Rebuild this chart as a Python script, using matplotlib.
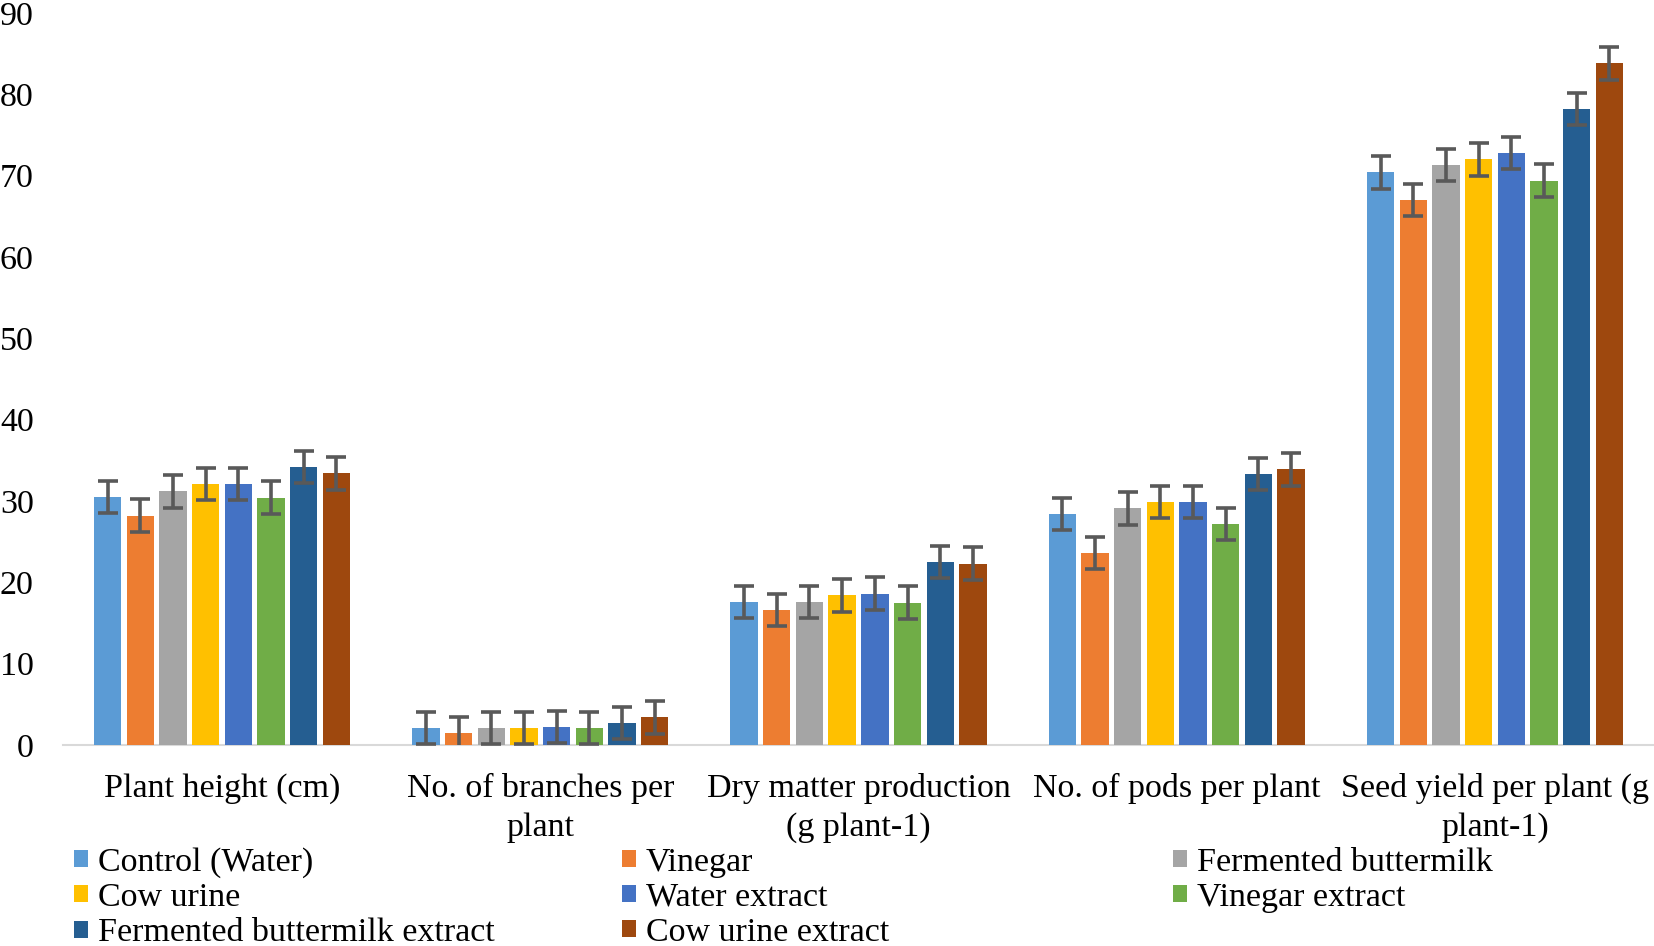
import numpy as np
import matplotlib
matplotlib.use("Agg")
import matplotlib.pyplot as plt
from matplotlib.patches import Patch

plt.rcParams['font.family'] = ['Liberation Serif', 'DejaVu Serif']

# Data
categories = ['Plant height (cm)', 'No. of branches per\nplant',
              'Dry matter production\n(g plant-1)', 'No. of pods per plant',
              'Seed yield per plant (g\nplant-1)']
treatments = ['Control (Water)', 'Vinegar', 'Fermented buttermilk', 'Cow urine',
              'Water extract', 'Vinegar extract', 'Fermented buttermilk extract',
              'Cow urine extract']

control = [30.5, 2.1, 17.6, 28.4, 70.4]
vinegar = [28.2, 1.5, 16.6, 23.6, 67.0]
fermented_buttermilk = [31.2, 2.1, 17.6, 29.1, 71.3]
cow_urine = [32.1, 2.1, 18.4, 29.9, 72.0]
water_extract = [32.1, 2.2, 18.6, 29.9, 72.8]
vinegar_extract = [30.4, 2.1, 17.5, 27.2, 69.4]
fb_extract = [34.2, 2.7, 22.5, 33.3, 78.2]
cu_extract = [33.4, 3.4, 22.3, 33.9, 83.8]
error = [2.0, 2.0, 2.0, 2.0, 2.0]

series = [control, vinegar, fermented_buttermilk, cow_urine,
          water_extract, vinegar_extract, fb_extract, cu_extract]
colors = ['#5B9BD5', '#ED7D31', '#A5A5A5', '#FFC000',
          '#4472C4', '#70AD47', '#255E91', '#9E480E']

fs = 24.5

fig = plt.figure(figsize=(16.54, 9.46), dpi=100)
ax = fig.add_axes([63 / 1654, 1 - 745 / 946, 1 - 63 / 1654, (745 - 13) / 946])

x = np.arange(len(categories))
pitch = 0.1027
width = 0.086
for i, (vals, col) in enumerate(zip(series, colors)):
    pos = x + (i - 3.5) * pitch
    ax.bar(pos, vals, width=width, color=col, zorder=2)
    ax.errorbar(pos, vals, yerr=error, fmt='none', ecolor='#595959',
                elinewidth=2.6, capsize=7, capthick=2.6, zorder=3)

ax.set_xlim(-0.5, len(categories) - 0.5)
ax.set_ylim(0, 90)
ax.set_yticks(range(0, 91, 10))
ax.set_xticks(x)
ax.set_xticklabels(categories, fontsize=fs, linespacing=1.35)
ax.tick_params(axis='y', length=0, pad=21, labelsize=fs)
ax.tick_params(axis='x', length=0, pad=20)
for s in ['top', 'right', 'left']:
    ax.spines[s].set_visible(False)
ax.spines['bottom'].set_color('#D9D9D9')
ax.spines['bottom'].set_linewidth(1.5)
ax.spines['bottom'].set_zorder(1)

# legend: three columns, filled row by row
col_x = [74 / 1654, 622 / 1654, 1173 / 1654]
for c in range(3):
    idx = list(range(c, len(treatments), 3))
    handles = [Patch(facecolor=colors[k], edgecolor='none') for k in idx]
    labels = [treatments[k] for k in idx]
    fig.legend(handles, labels, loc='upper left',
               bbox_to_anchor=(col_x[c], 1 - 847 / 946),
               frameon=False, fontsize=fs, handlelength=0.4, handleheight=0.4,
               handletextpad=0.3, borderpad=0, borderaxespad=0,
               labelspacing=0.14)

fig.savefig('out.png', dpi=100)
